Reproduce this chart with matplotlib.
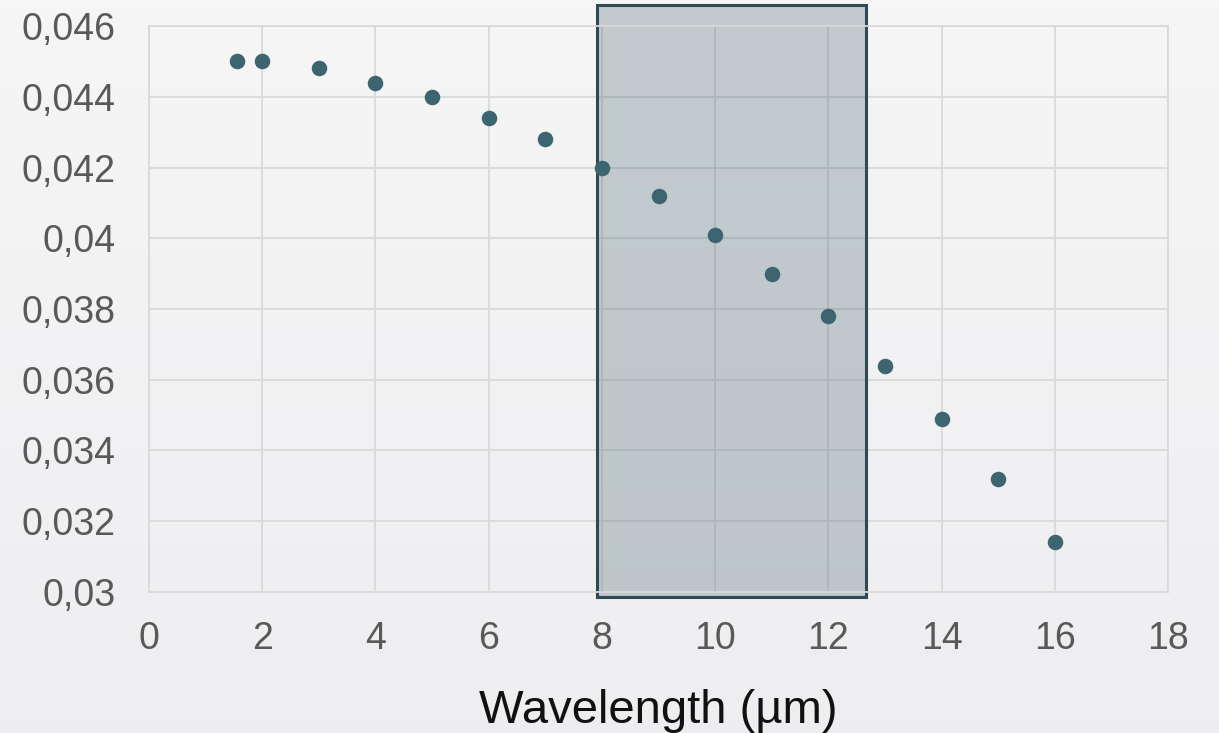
import numpy as np
import matplotlib
matplotlib.use("Agg")
import matplotlib.pyplot as plt
from matplotlib.patches import Rectangle
from matplotlib.ticker import FuncFormatter, MultipleLocator

# Measured values
wavelength_um = [1.55, 2, 3, 4, 5, 6, 7, 8, 9, 10, 11, 12, 13, 14, 15, 16]
value = [0.0450, 0.0450, 0.0448, 0.0444, 0.0440, 0.0434, 0.0428, 0.0420,
         0.0412, 0.0401, 0.0390, 0.0378, 0.0364, 0.0349, 0.0332, 0.0314]

# Highlighted band (atmospheric window)
band_start, band_end = 7.92, 12.66
band_low, band_high = 0.02986, 0.0466

xlabel = "Wavelength (µm)"

plt.rcParams['font.family'] = ['Liberation Sans', 'DejaVu Sans']

fig = plt.figure(figsize=(12.19, 7.33), dpi=100)

# Soft vertical gradient background
bg = fig.add_axes([0, 0, 1, 1], zorder=-10)
grad = np.linspace(0, 1, 256).reshape(-1, 1)
top = np.array([0.965, 0.965, 0.965])
bot = np.array([0.933, 0.929, 0.941])
img = top[None, None, :] * (1 - grad[..., None]) + bot[None, None, :] * grad[..., None]
bg.imshow(img, aspect='auto', extent=[0, 1, 0, 1], origin='upper')
bg.axis('off')

ax = fig.add_axes([0.1222, 0.1924, 0.836, 0.7721])
ax.set_facecolor('none')

ax.set_xlim(0, 18)
ax.set_ylim(0.03, 0.046)
ax.xaxis.set_major_locator(MultipleLocator(2))
ax.yaxis.set_major_locator(MultipleLocator(0.002))

def comma_fmt(v, pos):
    s = f"{v:.3f}".rstrip('0').rstrip('.')
    return s.replace('.', ',')

ax.yaxis.set_major_formatter(FuncFormatter(comma_fmt))
ax.xaxis.set_major_formatter(FuncFormatter(lambda v, p: f"{v:.0f}"))

ax.grid(True, color='#d9d9d9', linewidth=1.3, zorder=0)
ax.set_axisbelow(True)
for s in ax.spines.values():
    s.set_color('#d9d9d9')
    s.set_linewidth(1.3)

ax.tick_params(axis='both', length=0, labelsize=27, labelcolor='#595959')
ax.tick_params(axis='y', pad=24)
ax.tick_params(axis='x', pad=21)

ax.set_xlabel(xlabel, fontsize=34, color='#111111', labelpad=23)

band = Rectangle((band_start, band_low), band_end - band_start, band_high - band_low,
                 facecolor=(0.17, 0.30, 0.36, 0.25), edgecolor='#2f4a52',
                 linewidth=2.2, clip_on=False, zorder=2)
ax.add_patch(band)

ax.scatter(wavelength_um, value, s=125, color='#3d6570', zorder=3, linewidths=0)

fig.savefig('out.png', dpi=100)
